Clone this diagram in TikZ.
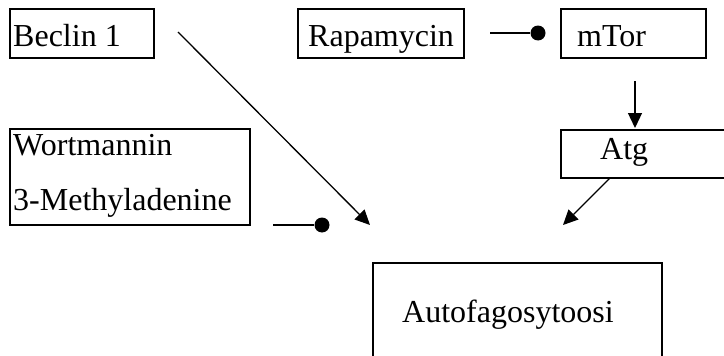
\documentclass[tikz,border=0pt]{standalone}
\usepackage{fontspec}
\setmainfont{Liberation Serif}
\usetikzlibrary{arrows.meta}
\begin{document}
\begin{tikzpicture}[x=1pt,y=-1pt,
  box/.style={draw, line width=1.3pt, inner sep=0pt, outer sep=0pt, anchor=north west},
  lbl/.style={anchor=base west, inner sep=0pt, font=\fontsize{32}{38}\selectfont},
  conn/.style={line width=1.3pt},
  arr/.style={conn, -{Triangle[length=15pt,width=14pt]}},
  dotend/.style={fill, circle, inner sep=0pt, minimum size=15pt}
]
\useasboundingbox (0,0) rectangle (724,356);
\clip (0,0) rectangle (724,356);
% boxes
\node[box, minimum width=144pt, minimum height=49pt] (beclin) at (10,9) {};
\node[box, minimum width=166pt, minimum height=49pt] (rapa) at (298,9) {};
\node[box, minimum width=145pt, minimum height=49pt] (mtor) at (561,9) {};
\node[box, minimum width=240pt, minimum height=96pt] (wort) at (10,129) {};
\node[box, minimum width=190pt, minimum height=48pt] (atg) at (561,130) {};
\node[box, minimum width=289pt, minimum height=120pt] (auto) at (373,263) {};
% labels
\node[lbl] (tbeclin) at (13,46) {Beclin 1};
\node[lbl] (trapa) at (308,46) {Rapamycin};
\node[lbl] (tmtor) at (577,46) {mTor};
\node[lbl] (twort) at (13,155) {Wortmannin};
\node[lbl] (tmeth) at (13,210) {3-Methyladenine};
\node[lbl] (tatg) at (600,159) {Atg};
\node[lbl] (tauto) at (402,322) {Autofagosytoosi};
% connector end points
\coordinate (bs) at (178,32);
\coordinate (bt) at (370,225);
\coordinate (rs) at (490,33);
\node[dotend] (rdot) at (538,33) {};
\coordinate (ws) at (273,225);
\node[dotend] (wdot) at (322,225) {};
\coordinate (ms) at (635,81);
\coordinate (mt) at (635,128);
\coordinate (as) at (610,178);
\coordinate (at) at (563,225);
% connectors
\draw[arr] (bs) -- (bt);
\draw[conn] (rs) -- (rdot);
\draw[conn] (ws) -- (wdot);
\draw[arr] (ms) -- (mt);
\draw[arr] (as) -- (at);
\end{tikzpicture}
\end{document}
